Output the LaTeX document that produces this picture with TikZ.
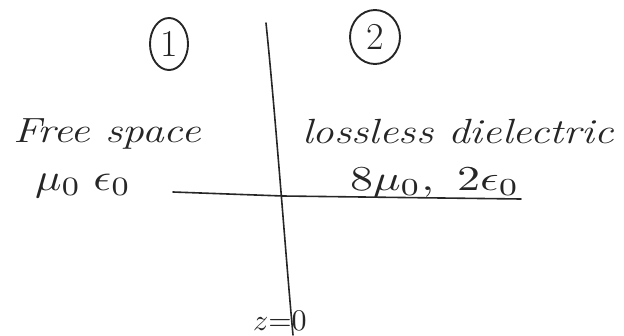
\documentclass[tikz,border=0pt]{standalone}
\usetikzlibrary{shapes.geometric}
\usepackage{graphicx}
\tikzset{
  ink/.style={draw=black!85, line width=1.6pt, line cap=round, line join=round},
  hand/.style={text=black!85, inner sep=0pt, outer sep=0pt},
  regionmark/.style={ellipse, draw=black!85, line width=1.9pt, inner sep=0pt, text=black!85, font=\fontsize{38}{40}\selectfont}
}
\begin{document}
\begin{tikzpicture}[x=1pt, y=-1pt]
\useasboundingbox (0,0) rectangle (624,335);
% region labels
\node[regionmark, minimum width=38pt, minimum height=52pt] (c1) at (169,44) {1};
\node[regionmark, minimum width=50pt, minimum height=54pt] (c2) at (375,37) {2};
% interface and reference line
\coordinate (vtop) at (266,23);
\coordinate (vmid) at (283,196);
\coordinate (vbot) at (293,335);
\coordinate (hleft) at (173,192);
\coordinate (hright) at (521,199);
\draw[ink] (vtop) .. controls (276,120) and (286,260) .. (vbot);
\draw[ink] (hleft) -- (vmid) -- (hright);
% texts
\node[hand, anchor=base west] (free) at (13,142) {\fontsize{35}{38}\selectfont\itshape\scalebox{1.24}[1]{Free space}};
\node[hand, anchor=base west] (mueps1) at (35,190) {\scalebox{4.4}[3.8]{$\mu_0\;\epsilon_0$}};
\node[hand, anchor=base west] (diel) at (302,143) {\fontsize{35}{38}\selectfont\itshape\scalebox{1.23}[1]{lossless dielectric}};
\node[hand, anchor=base west] (mueps2) at (350,190) {\scalebox{4.6}[3.5]{$8\mu_0,\ 2\epsilon_0$}};
\node[hand, anchor=base west] (zlabel) at (253,330) {\scalebox{3}{$z{=}0$}};
\end{tikzpicture}
\end{document}
